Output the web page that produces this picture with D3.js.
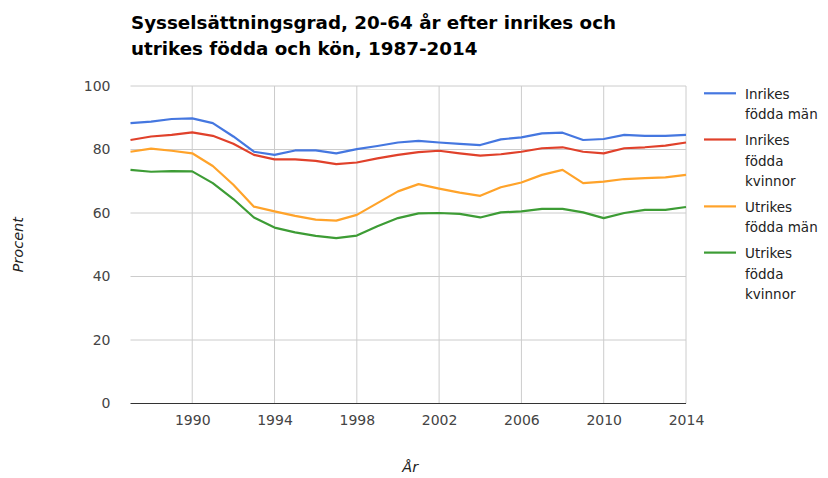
<!DOCTYPE html>
<html><head><meta charset="utf-8">
<script src="https://cdn.jsdelivr.net/npm/d3@7"></script>
<style>body{margin:0;background:#fff}svg{display:block}</style>
</head><body>
<svg id="c" width="828" height="478"></svg>
<script>
const years = d3.range(1987, 2015);
const seriesNames = ["Inrikes födda män", "Inrikes födda kvinnor", "Utrikes födda män", "Utrikes födda kvinnor"];
const inrikesMan = [88.3,88.8,89.6,89.8,88.3,84.1,79.3,78.3,79.7,79.7,78.8,80.1,81.1,82.2,82.7,82.2,81.8,81.4,83.2,83.8,85.1,85.3,83.0,83.3,84.6,84.3,84.3,84.6];
const inrikesKvinnor = [83.0,84.1,84.6,85.4,84.3,81.8,78.3,76.9,76.9,76.4,75.4,75.9,77.2,78.3,79.2,79.6,78.8,78.1,78.5,79.3,80.4,80.7,79.3,78.8,80.4,80.7,81.2,82.2];
const utrikesMan = [79.3,80.3,79.6,78.8,74.8,68.9,62.0,60.5,59.1,57.9,57.6,59.4,63.1,66.8,69.1,67.7,66.4,65.4,68.1,69.6,72.0,73.6,69.4,69.9,70.7,71.0,71.2,72.0];
const utrikesKvinnor = [73.6,73.0,73.2,73.1,69.4,64.4,58.6,55.4,53.9,52.8,52.1,52.9,55.8,58.4,59.9,60.0,59.7,58.6,60.2,60.5,61.3,61.3,60.2,58.4,60.0,61.0,61.0,61.9];
const colors = ["#4577e0", "#e0412b", "#ffa32a", "#3d9c35"];
const legendLines = [["Inrikes","födda män"],["Inrikes","födda","kvinnor"],["Utrikes","födda män"],["Utrikes","födda","kvinnor"]];
const xTicks = [1990,1994,1998,2002,2006,2010,2014];
const yTicks = [0,20,40,60,80,100];
const titleLines = ["Sysselsättningsgrad, 20-64 år efter inrikes och","utrikes födda och kön, 1987-2014"];

const data = [inrikesMan, inrikesKvinnor, utrikesMan, utrikesKvinnor];
const svg = d3.select("#c");
const font = "'DejaVu Sans', Verdana, sans-serif";
const L = 130.5, R = 686, T = 86, B = 403.5;
const x = d3.scaleLinear().domain([1987, 2014]).range([L, R]);
const y = d3.scaleLinear().domain([0, 100]).range([B, T]);

// title
svg.append("g").selectAll("text").data(titleLines).join("text")
  .attr("x", 131).attr("y", (d,i)=>28.5 + i*26.5)
  .attr("font-family", font).attr("font-weight", "bold").attr("font-size", 18.3)
  .attr("fill", "#000").text(d=>d);

// horizontal gridlines
svg.append("g").selectAll("line").data(yTicks.filter(v=>v>0)).join("line")
  .attr("x1", L).attr("x2", R).attr("y1", d=>y(d)).attr("y2", d=>y(d))
  .attr("stroke", "#cccccc").attr("stroke-width", 1);
// vertical gridlines
svg.append("g").selectAll("line").data(xTicks).join("line")
  .attr("x1", d=>x(d)).attr("x2", d=>x(d)).attr("y1", T).attr("y2", B)
  .attr("stroke", "#cccccc").attr("stroke-width", 1);

// y axis labels
const yAxis = d3.axisLeft(y).tickValues(yTicks).tickSize(0).tickPadding(20);
const gy = svg.append("g").attr("transform", `translate(${L},0)`).call(yAxis);
gy.select(".domain").remove();
gy.selectAll("text").attr("font-family", font).attr("font-size", 14).attr("fill", "#444");

// x axis labels
const xAxis = d3.axisBottom(x).tickValues(xTicks).tickFormat(d3.format("d")).tickSize(0).tickPadding(12);
const gx = svg.append("g").attr("transform", `translate(0,${B})`).call(xAxis);
gx.select(".domain").remove();
gx.selectAll("text").attr("font-family", font).attr("font-size", 14).attr("fill", "#444");

// baseline
svg.append("line").attr("x1", L).attr("x2", R).attr("y1", y(0)).attr("y2", y(0))
  .attr("stroke", "#333").attr("stroke-width", 1);

// lines
const line = d3.line().x((d,i)=>x(years[i])).y(d=>y(d));
svg.append("g").selectAll("path").data(data).join("path")
  .attr("d", line).attr("fill", "none")
  .attr("stroke", (d,i)=>colors[i]).attr("stroke-width", 2.2).attr("stroke-linejoin", "round");

// axis titles
svg.append("text").attr("transform", `translate(23,${(T+B)/2}) rotate(-90)`)
  .attr("text-anchor", "middle").attr("font-family", font).attr("font-style", "italic")
  .attr("font-size", 14.5).attr("fill", "#222").text("Procent");
svg.append("text").attr("x", (L+R)/2 + 2).attr("y", 472)
  .attr("text-anchor", "middle").attr("font-family", font).attr("font-style", "italic")
  .attr("font-size", 14.5).attr("fill", "#222").text("År");

// legend
const lh = 20.7, gap = 25.5;
let ly = 93.3;
const lg = svg.append("g");
legendLines.forEach((lines, i) => {
  lg.append("line").attr("x1", 704).attr("x2", 736).attr("y1", ly).attr("y2", ly)
    .attr("stroke", colors[i]).attr("stroke-width", 2.2);
  lines.forEach((t, j) => {
    lg.append("text").attr("x", 745).attr("y", ly + j*lh + 5.3)
      .attr("font-family", font).attr("font-size", 13.5).attr("fill", "#222").text(t);
  });
  ly += (lines.length - 1) * lh + gap;
});
</script>
</body></html>
